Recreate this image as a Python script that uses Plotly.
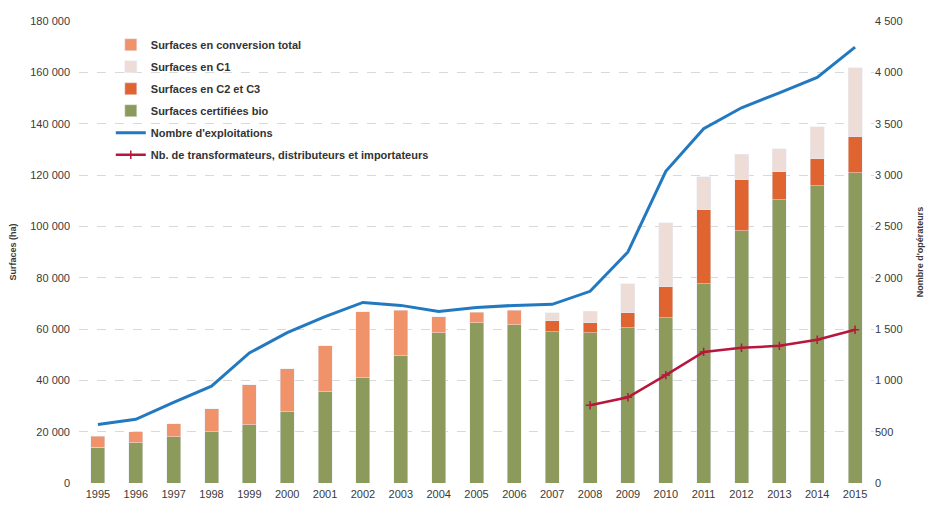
import plotly.graph_objects as go

years = list(range(1995, 2016))

# Surfaces (ha) - stacked components
certifiees_bio = [14000, 15600, 18000, 20000, 22600, 27700, 35500, 41000, 49500, 58500, 62400,
                  61600, 58900, 58500, 60500, 64400, 77600, 98300, 110400, 115800, 120900]
conversion_total = [4300, 4300, 5000, 8900, 15600, 16800, 17900, 25700, 17900, 6200, 4100,
                    5800, None, None, None, None, None, None, None, None, None]
c2_c3 = [None] * 12 + [4300, 3900, 5800, 12000, 28900, 19900, 10900, 10600, 14000]
c1 = [None] * 12 + [3100, 4600, 11300, 25000, 12800, 9800, 9000, 12400, 26900]

# Operators (right axis)
exploitations = [570, 620, 786, 943, 1267, 1464, 1621, 1759, 1730, 1670, 1710,
                 1730, 1740, 1867, 2250, 3036, 3450, 3655, 3800, 3950, 4245]
transformateurs = [None] * 13 + [757, 835, 1051, 1277, 1317, 1336, 1395, 1493]

left_ticks = list(range(0, 180001, 20000))
right_ticks = list(range(0, 4501, 500))

FONT = "Liberation Sans, Arial, sans-serif"
BW = 0.37

fig = go.Figure()
fig.add_trace(go.Bar(x=years, y=certifiees_bio, name="<b>Surfaces certifiées bio</b>",
                     marker_color="#8c9a5c", width=BW, legendgroup="g4", legendrank=4))
fig.add_trace(go.Bar(x=years, y=c2_c3, name="<b>Surfaces en C2 et C3</b>",
                     marker_color="#e0642f", width=BW, legendgroup="g3", legendrank=3))
fig.add_trace(go.Bar(x=years, y=c1, name="<b>Surfaces en C1</b>",
                     marker_color="#eeddd6", width=BW, legendgroup="g2", legendrank=2))
fig.add_trace(go.Bar(x=years, y=conversion_total, name="<b>Surfaces en conversion total</b>",
                     marker_color="#f0936b", width=BW, legendgroup="g1", legendrank=1))
fig.add_trace(go.Scatter(x=years, y=exploitations, name="<b>Nombre d'exploitations</b>",
                         mode="lines", line=dict(color="#2379c0", width=3),
                         yaxis="y2", legendgroup="g5", legendrank=5))
fig.add_trace(go.Scatter(x=years, y=transformateurs,
                         name="<b>Nb. de transformateurs, distributeurs et importateurs</b>",
                         mode="lines+markers", line=dict(color="#b8163c", width=2.5),
                         marker=dict(symbol="cross-thin", size=6,
                                     line=dict(color="#b8163c", width=1.5)),
                         yaxis="y2", legendgroup="g6", legendrank=6))

fig.update_layout(
    width=926, height=499,
    margin=dict(l=71, r=60, t=13, b=24),
    paper_bgcolor="white", plot_bgcolor="white",
    barmode="stack",
    separators=", ",
    font=dict(family=FONT, size=11, color="#3a3a3a"),
    showlegend=True,
    legend=dict(x=0.04, y=0.98, xanchor="left", yanchor="top", traceorder="grouped",
                bgcolor="rgba(255,255,255,0)", font=dict(size=11, color="#333333"),
                tracegroupgap=3, itemwidth=30),
    xaxis=dict(range=[1994.5, 2015.5], tickmode="array", tickvals=years,
               ticktext=[str(y) for y in years], showgrid=False, zeroline=False,
               showline=False, ticks="", automargin=False, ticklabelstandoff=3),
    yaxis=dict(range=[0, 180000], tickmode="array", tickvals=left_ticks,
               tickformat=",d", showgrid=True, gridcolor="#d9d9d9", griddash="dash",
               gridwidth=1, zeroline=False, showline=False, ticks="", automargin=False,
               ticklabelstandoff=8,
               title=dict(text="<b>Surfaces (ha)</b>", font=dict(size=9), standoff=16)),
    yaxis2=dict(range=[0, 4500], tickmode="array", tickvals=right_ticks,
                tickformat=",d", overlaying="y", side="right", showgrid=False,
                zeroline=False, showline=False, ticks="", automargin=False,
                title=dict(text="<b>Nombre d'opérateurs</b>", font=dict(size=9), standoff=15)),
)

fig.write_html("out.html")
